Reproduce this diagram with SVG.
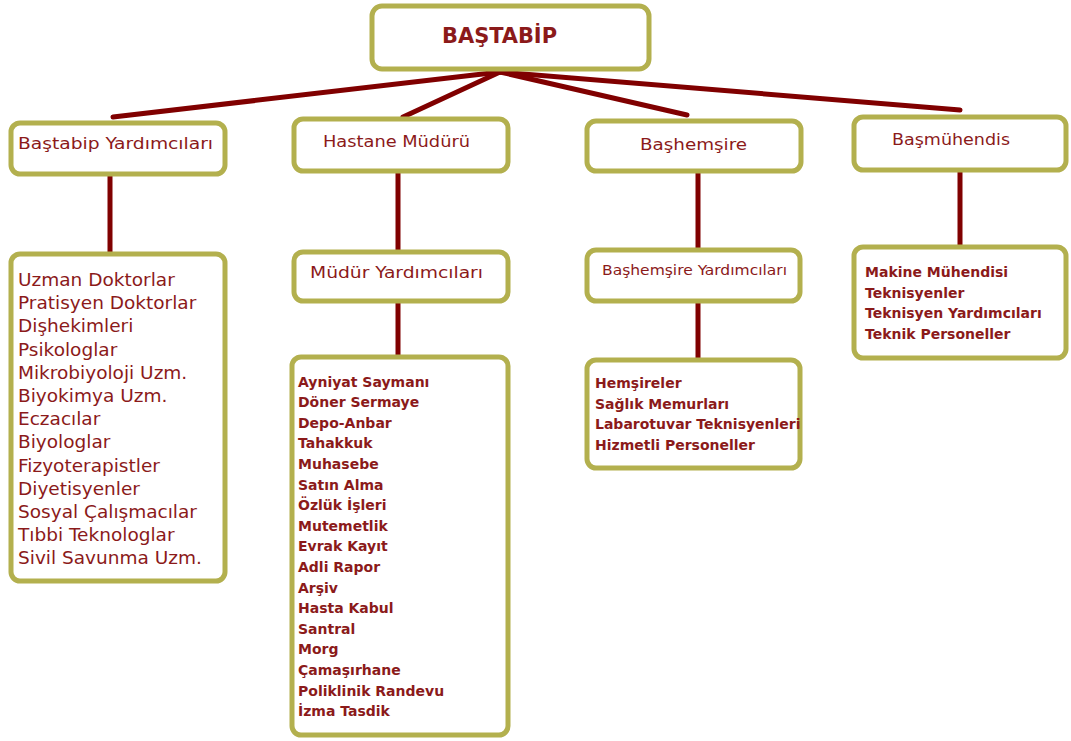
<svg xmlns="http://www.w3.org/2000/svg" width="1071" height="741" viewBox="0 0 1071 741">
<style>
.box{fill:#fff;stroke:#b3b04e;stroke-width:5}
.con{stroke:#800000;stroke-width:5;stroke-linecap:round;fill:none}
text{fill:#8b1a1a;font-family:"DejaVu Sans Condensed","DejaVu Sans",sans-serif}
.title{font-size:21px;font-weight:bold}
.hdr{font-size:16px}
.big{font-size:18.5px;font-family:"DejaVu Sans",sans-serif}
.sm{font-size:14px;font-weight:bold;font-family:"DejaVu Sans",sans-serif}
</style>
<rect width="1071" height="741" fill="#fff"/>
<g id="connectors">
<line class="con" x1="500" y1="72" x2="113" y2="117"/>
<line class="con" x1="500" y1="72" x2="403" y2="117"/>
<line class="con" x1="500" y1="72" x2="687" y2="115"/>
<line class="con" x1="500" y1="72" x2="960" y2="110"/>
<line class="con" x1="110" y1="176" x2="110" y2="252"/>
<line class="con" x1="398" y1="171" x2="398" y2="250"/>
<line class="con" x1="398" y1="301" x2="398" y2="355"/>
<line class="con" x1="698" y1="171" x2="698" y2="248"/>
<line class="con" x1="698" y1="301" x2="698" y2="358"/>
<line class="con" x1="960" y1="170" x2="960" y2="245"/>
</g>
<g id="bastabip">
<rect class="box" x="372" y="6" width="277" height="63" rx="10"/>
<text class="title" x="442" y="43" textLength="115" lengthAdjust="spacingAndGlyphs">BAŞTABİP</text>
</g>
<g id="bastabip-yardimcilari">
<rect class="box" x="11" y="123" width="214" height="51" rx="9"/>
<text class="hdr" x="18" y="148.5" textLength="195" lengthAdjust="spacingAndGlyphs">Baştabip Yardımcıları</text>
</g>
<g id="hastane-muduru">
<rect class="box" x="294" y="119" width="214" height="52" rx="9"/>
<text class="hdr" x="323" y="147" textLength="147" lengthAdjust="spacingAndGlyphs">Hastane Müdürü</text>
</g>
<g id="bashemsire">
<rect class="box" x="587" y="121" width="214" height="50" rx="9"/>
<text class="hdr" x="640" y="149.5" textLength="107" lengthAdjust="spacingAndGlyphs">Başhemşire</text>
</g>
<g id="basmuhendis">
<rect class="box" x="854" y="117" width="212" height="53" rx="9"/>
<text class="hdr" x="892" y="145" textLength="118" lengthAdjust="spacingAndGlyphs">Başmühendis</text>
</g>
<g id="bastabip-list">
<rect class="box" x="11" y="254" width="214" height="327" rx="9"/>
<text class="big" x="18" y="286">
<tspan x="18" dy="0">Uzman Doktorlar</tspan>
<tspan x="18" dy="23.2">Pratisyen Doktorlar</tspan>
<tspan x="18" dy="23.2">Dişhekimleri</tspan>
<tspan x="18" dy="23.2">Psikologlar</tspan>
<tspan x="18" dy="23.2">Mikrobiyoloji Uzm.</tspan>
<tspan x="18" dy="23.2">Biyokimya Uzm.</tspan>
<tspan x="18" dy="23.2">Eczacılar</tspan>
<tspan x="18" dy="23.2">Biyologlar</tspan>
<tspan x="18" dy="23.2">Fizyoterapistler</tspan>
<tspan x="18" dy="23.2">Diyetisyenler</tspan>
<tspan x="18" dy="23.2">Sosyal Çalışmacılar</tspan>
<tspan x="18" dy="23.2">Tıbbi Teknologlar</tspan>
<tspan x="18" dy="23.2">Sivil Savunma Uzm.</tspan>
</text>
</g>
<g id="mudur-yardimcilari">
<rect class="box" x="294" y="252" width="214" height="49" rx="9"/>
<text class="hdr" x="310" y="278" textLength="173" lengthAdjust="spacingAndGlyphs">Müdür Yardımcıları</text>
</g>
<g id="hastane-list">
<rect class="box" x="292" y="357" width="216" height="378" rx="9"/>
<text class="sm" x="298" y="386.5">
<tspan x="298" dy="0">Ayniyat Saymanı</tspan>
<tspan x="298" dy="20.6">Döner Sermaye</tspan>
<tspan x="298" dy="20.6">Depo-Anbar</tspan>
<tspan x="298" dy="20.6">Tahakkuk</tspan>
<tspan x="298" dy="20.6">Muhasebe</tspan>
<tspan x="298" dy="20.6">Satın Alma</tspan>
<tspan x="298" dy="20.6">Özlük İşleri</tspan>
<tspan x="298" dy="20.6">Mutemetlik</tspan>
<tspan x="298" dy="20.6">Evrak Kayıt</tspan>
<tspan x="298" dy="20.6">Adli Rapor</tspan>
<tspan x="298" dy="20.6">Arşiv</tspan>
<tspan x="298" dy="20.6">Hasta Kabul</tspan>
<tspan x="298" dy="20.6">Santral</tspan>
<tspan x="298" dy="20.6">Morg</tspan>
<tspan x="298" dy="20.6">Çamaşırhane</tspan>
<tspan x="298" dy="20.6">Poliklinik Randevu</tspan>
<tspan x="298" dy="20.6">İzma Tasdik</tspan>
</text>
</g>
<g id="bashemsire-yardimcilari">
<rect class="box" x="587" y="250" width="213" height="51" rx="9"/>
<text class="hdr" style="font-size:14px" x="602" y="275" textLength="185" lengthAdjust="spacingAndGlyphs">Başhemşire Yardımcıları</text>
</g>
<g id="bashemsire-list">
<rect class="box" x="587" y="360" width="213" height="108" rx="9"/>
<text class="sm" x="595" y="388">
<tspan x="595" dy="0">Hemşireler</tspan>
<tspan x="595" dy="20.7">Sağlık Memurları</tspan>
<tspan x="595" dy="20.7">Labarotuvar Teknisyenleri</tspan>
<tspan x="595" dy="20.7">Hizmetli Personeller</tspan>
</text>
</g>
<g id="basmuhendis-list">
<rect class="box" x="854" y="247" width="212" height="111" rx="9"/>
<text class="sm" x="865" y="277">
<tspan x="865" dy="0">Makine Mühendisi</tspan>
<tspan x="865" dy="20.5">Teknisyenler</tspan>
<tspan x="865" dy="20.5">Teknisyen Yardımcıları</tspan>
<tspan x="865" dy="20.5">Teknik Personeller</tspan>
</text>
</g>
</svg>
